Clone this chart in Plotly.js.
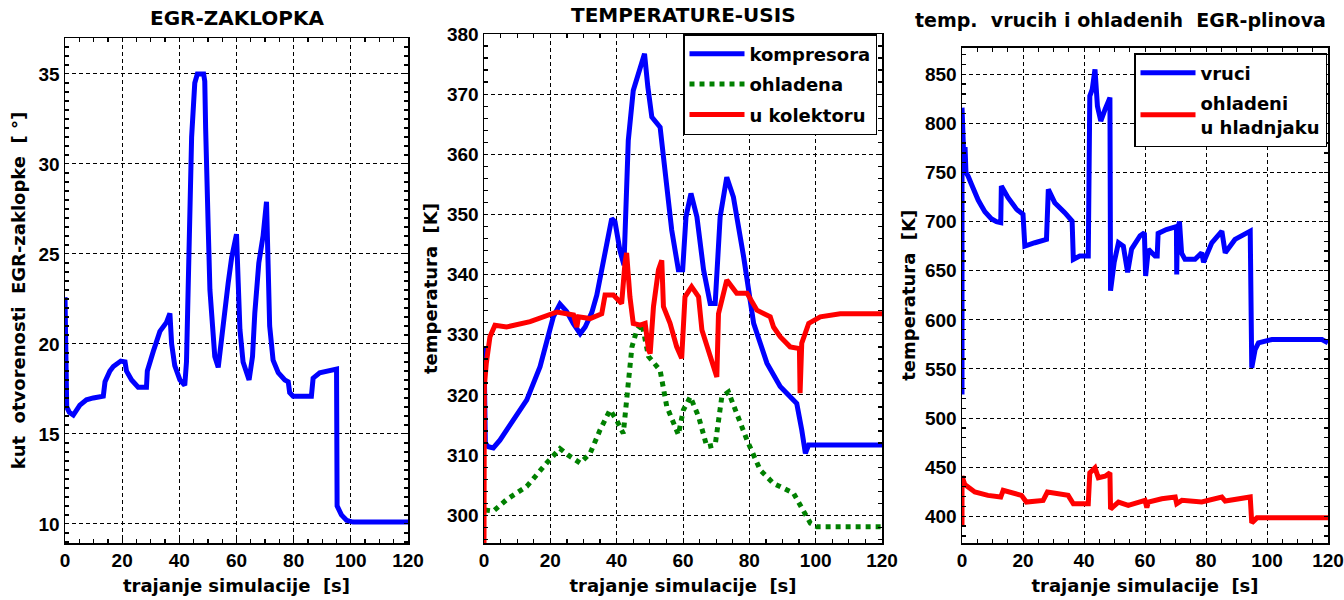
<!DOCTYPE html>
<html>
<head>
<meta charset="utf-8">
<script src="https://cdn.plot.ly/plotly-3.0.1.min.js"></script>
<style>html,body{margin:0;padding:0;background:#fff;}#chart{width:1344px;height:600px;}</style>
</head>
<body>
<div id="chart"></div>
<script>
// ---------- Panel 1: EGR-ZAKLOPKA ----------
const egrTime = [0,0.6,1.5,2.9,5.2,7.5,9.9,13.4,14.0,15.7,16.9,18.1,19.5,21.0,21.5,23.3,25.6,28.5,28.8,30.9,33.2,35.5,36.7,37.3,38.4,40.2,41.9,42.5,43.1,43.5,44.3,45.4,46.3,48.5,48.9,49.2,49.5,50.1,50.7,51.6,52.4,53.6,55.3,57.1,58.3,60.0,60.6,61.2,62.3,64.4,65.6,66.4,67.8,69.3,70.5,71.1,71.6,72.8,74.6,76.9,78.1,78.6,79.8,86.2,86.8,89.1,93.8,95.0,95.2,96.7,98.5,100.8,120];
const egrAngle = [22.6,16.5,16.2,16.05,16.6,16.9,17.0,17.1,17.9,18.5,18.75,18.9,19.05,19.0,18.5,18.0,17.6,17.6,18.5,19.6,20.7,21.2,21.7,20.0,18.8,18.0,17.7,19.0,24.0,28.0,31.5,34.5,35.0,35.0,34.6,32.0,29.0,26.5,23.0,20.8,19.3,18.7,21.3,23.4,24.8,26.1,23.4,20.8,19.0,18.0,19.3,21.7,24.5,26.0,27.9,25.2,21.0,19.1,18.4,18.0,17.9,17.3,17.1,17.1,18.1,18.4,18.6,18.6,11.0,10.5,10.2,10.1,10.1];

// ---------- Panel 2: TEMPERATURE-USIS ----------
const kompTime = [0,0.4,1.3,2.8,4.8,8.9,12.9,16.9,18.9,20.9,22.9,24.9,26.9,29,30.5,32.5,34,36,37.5,38.5,39.5,41,42.2,42.7,43.5,45,47.1,48.4,49.4,50.6,53.1,54.6,56.6,58.6,59.9,60.9,62.4,64.2,66.2,68.2,69.7,71.2,73.2,75.2,78.3,81.3,85.3,89.3,94.3,95.8,96.9,97.9,120];
const kompTemp = [328.0,312.0,311.4,311.2,312.5,315.8,319.2,324.7,328.6,333.0,335.1,333.9,331.9,330.2,331.3,333.7,336.6,342.4,347.4,349.3,348.8,344.0,341.6,349.6,362.3,370.6,374.5,376.7,371.2,366.2,364.5,357.4,347.4,340.8,340.8,349.6,353.5,349.6,340.8,335.2,335.2,349.6,356.2,352.9,342.9,331.9,325.3,321.4,318.6,314.2,310.3,311.7,311.7];

const ohlTime = [0.3,2.8,6.8,12.9,18.9,22.9,25.4,29,32,35,38,40,42,43,44.6,46.1,47.6,49.6,53.1,55.1,58.6,60.1,62.2,64.7,67.2,69.7,71.7,73.7,76.2,79.3,83.3,87.3,93.3,96.3,98.4,100.4,120];
const ohlTemp = [300.9,300.7,302.6,304.8,308.7,311.1,310.0,308.7,310.3,314.2,317.5,315.8,313.6,319.7,328.0,330.8,331.9,326.4,324.1,318.1,313.4,317.5,319.7,316.4,311.4,311.7,319.7,320.5,317.0,312.5,307.5,305.3,303.7,300.9,298.7,298.1,298.1];

const kolTime = [0,0.1,0.7,1.8,3.3,6.8,13.9,18.9,22,27,28,28.5,32,35.5,36.5,39,41.5,42.5,43,44,45,47.1,48.6,49.6,50.1,51.1,52.6,53.6,54.1,56.1,58.1,59.6,60.6,62.6,64.7,65.7,67.7,70.2,70.7,73.2,76.2,79.3,82.3,86.3,87.3,89.3,92.3,95.1,95.3,95.8,97.9,101.4,107.4,120];
const kolTemp = [295.4,321.4,325.3,329.7,331.6,331.3,332.2,333.3,333.8,333.3,331.3,333.0,332.7,333.5,336.6,336.6,335.2,341.9,343.6,336.3,331.9,331.6,331.9,327.5,326.9,334.7,340.8,342.4,334.7,331.9,328.0,326.1,336.3,338.0,336.3,330.8,327.5,323.0,333.5,339.1,336.9,336.9,334.1,333.0,331.3,329.7,328.0,327.7,320.3,328.6,331.9,333.0,333.5,333.5];

// ---------- Panel 3: EGR gas temperatures ----------
const vrTime = [0,0.01,0.3,0.7,1.0,1.3,2.0,3.1,4.2,5.3,6.4,7.5,9.6,11.3,12.7,12.9,15.1,17.9,20.0,20.6,23.9,27.7,28.3,30.4,33.7,36.1,36.5,38.6,41.4,41.9,42.7,43.6,44.4,45.5,46.9,48.5,48.7,49.9,51.3,52.9,54.3,55.6,58.4,59.8,60.2,61.1,63.3,64.0,64.3,67.0,70.3,70.4,70.6,71.3,72.0,73.1,76.4,78.6,79.2,81.9,85.2,86.3,89.5,94.5,95.0,96.1,97.2,101.6,118,120];
const vrTemp = [524,816,790,755,776,750,746.4,738,729.5,722,715.9,710,703,700,699,736.3,724.4,712.5,707.4,675.1,678.5,681.9,733,719.3,709.2,700.6,661.6,665,665,827.9,834.7,855,817.7,802.4,814.3,826.3,629.7,658.6,678.5,675,648.4,672.1,685.7,688.7,644.6,672,665,665,688,692,695,646.2,690,700,668,661.6,661.6,668.3,658.6,678.5,690.4,668.3,681.9,690.4,551.2,569.8,576.6,580,580,576.6];

const ohTime = [0,0.01,0.9,4.2,8.5,12.7,13.5,19.5,21.1,26.6,28,34.8,36.5,41.4,41.9,43.6,44.7,46.9,48.5,48.7,51.3,54.5,60,60.6,61.1,65.5,69.9,70.4,72.1,78.6,85.2,86.3,94.5,95,96.7,120];
const ohTemp = [389.8,440.8,432.3,424.7,421.3,419.6,426.4,421.3,414.5,416.2,424.7,421.3,412.8,412.8,444.2,449.3,439.2,440.8,444.2,407.4,414.5,411.1,416.2,408.8,414.5,417.9,419.6,412.8,416.2,414.5,419.6,415.5,419.6,393.3,398.4,398.4];

// ---------- Texts ----------
const titles = ['EGR-ZAKLOPKA', 'TEMPERATURE-USIS', 'temp.\u00a0 vrucih i ohladenih\u00a0 EGR-plinova'];
const xTitle = 'trajanje simulacije\u00a0 [s]';
const yTitles = ['kut\u00a0 otvorenosti\u00a0 EGR-zaklopke\u00a0 [ °]', 'temperatura\u00a0 [K]', 'temperatura\u00a0 [K]'];
const legendNames2 = ['kompresora', 'ohladena', 'u kolektoru'];
const legendNames3 = ['vruci', 'ohladeni<br>u hladnjaku'];

const TICKFONT = 'Liberation Sans, Arial, sans-serif';
const TEXTFONT = 'DejaVu Sans, sans-serif';
const BLUE = '#0000ff', RED = '#ff0000', GREEN = '#008000';
const tickFont = {family: TICKFONT, size: 19, color: '#000', weight: 'bold'};
const titleFont = {family: TEXTFONT, size: 18, color: '#000', weight: 'bold'};
const GRIDDASH = '4px,3px';

function xAxis(domain, anchor) {
  return {
    domain: domain, anchor: anchor, range: [0, 120], dtick: 20, tick0: 0,
    showgrid: true, gridcolor: '#000', griddash: GRIDDASH, gridwidth: 1,
    showline: true, linecolor: '#000', linewidth: 1.5, mirror: 'allticks',
    ticks: 'inside', ticklen: 4, tickwidth: 1, tickcolor: '#000',
    minor: {ticks: 'inside', ticklen: 4, tickwidth: 1.3, dtick: 5, tick0: 0, tickcolor: '#000', showgrid: false},
    zeroline: false, tickfont: tickFont,
    title: {text: xTitle, font: titleFont, standoff: 9}
  };
}
function yAxis(domain, anchor, range, dtick, minorDtick, ytitle, standoff) {
  return {
    domain: domain, anchor: anchor, range: range, dtick: dtick, tick0: 0,
    showgrid: true, gridcolor: '#000', griddash: GRIDDASH, gridwidth: 1,
    showline: true, linecolor: '#000', linewidth: 1.5, mirror: 'allticks',
    ticks: 'inside', ticklen: 4, tickwidth: 1, tickcolor: '#000',
    minor: {ticks: 'inside', ticklen: 4, tickwidth: 1.3, dtick: minorDtick, tick0: 0, tickcolor: '#000', showgrid: false},
    zeroline: false, tickfont: tickFont,
    title: {text: ytitle, font: titleFont, standoff: standoff}
  };
}

const traces = [
  {x: egrTime, y: egrAngle, xaxis: 'x', yaxis: 'y', mode: 'lines', line: {color: BLUE, width: 5}, showlegend: false},
  {x: kompTime, y: kompTemp, xaxis: 'x2', yaxis: 'y2', mode: 'lines', name: legendNames2[0], line: {color: BLUE, width: 5}, legend: 'legend', legendgroup: 'a'},
  {x: ohlTime, y: ohlTemp, xaxis: 'x2', yaxis: 'y2', mode: 'lines', name: legendNames2[1], line: {color: GREEN, width: 5, dash: 'dot'}, legend: 'legend', legendgroup: 'b'},
  {x: kolTime, y: kolTemp, xaxis: 'x2', yaxis: 'y2', mode: 'lines', name: legendNames2[2], line: {color: RED, width: 5}, legend: 'legend', legendgroup: 'c'},
  {x: vrTime, y: vrTemp, xaxis: 'x3', yaxis: 'y3', mode: 'lines', name: legendNames3[0], line: {color: BLUE, width: 5}, legend: 'legend2', legendgroup: 'd'},
  {x: ohTime, y: ohTemp, xaxis: 'x3', yaxis: 'y3', mode: 'lines', name: legendNames3[1], line: {color: RED, width: 5}, legend: 'legend2', legendgroup: 'e'}
];

const legendBase = {
  font: {family: TEXTFONT, size: 18, color: '#000', weight: 'bold'},
  bgcolor: '#fff', bordercolor: '#000', borderwidth: 1.5,
  xanchor: 'right', yanchor: 'top', itemwidth: 55, traceorder: 'grouped', tracegroupgap: 4
};

const titleAnn = (txt, px, py, size) => ({
  text: txt, x: px/1344, y: 1 - py/600, xref: 'paper', yref: 'paper', xanchor: 'center', yanchor: 'middle',
  showarrow: false, font: {family: TEXTFONT, size: size, color: '#000', weight: 'bold'}
});

const layout = {
  width: 1344, height: 600,
  margin: {l: 0, r: 0, t: 0, b: 0},
  paper_bgcolor: '#fff', plot_bgcolor: '#fff',
  font: {family: TEXTFONT, color: '#000'},
  xaxis: xAxis([65/1344, 408/1344], 'y'),
  yaxis: yAxis([57/600, 1 - 38/600], 'x', [8.94, 37], 5, 0.5, yTitles[0], 8),
  xaxis2: xAxis([484/1344, 882/1344], 'y2'),
  yaxis2: yAxis([57/600, 1 - 34/600], 'x2', [295.4, 380], 10, 2, yTitles[1], 4),
  xaxis3: xAxis([962/1344, 1328/1344], 'y3'),
  yaxis3: yAxis([57/600, 1 - 47.5/600], 'x3', [372.8, 877.3], 50, 10, yTitles[2], 4),
  legend: Object.assign({}, legendBase, {x: 877/1344, y: 1 - 34/600}),
  legend2: Object.assign({}, legendBase, {x: 1327/1344, y: 1 - 53/600}),
  annotations: [
    titleAnn(titles[0], 237, 18, 20),
    titleAnn(titles[1], 683, 15, 20),
    titleAnn(titles[2], 1120, 20, 19)
  ],
  showlegend: true
};

Plotly.newPlot('chart', traces, layout, {staticPlot: true, displayModeBar: false});
</script>
</body>
</html>
